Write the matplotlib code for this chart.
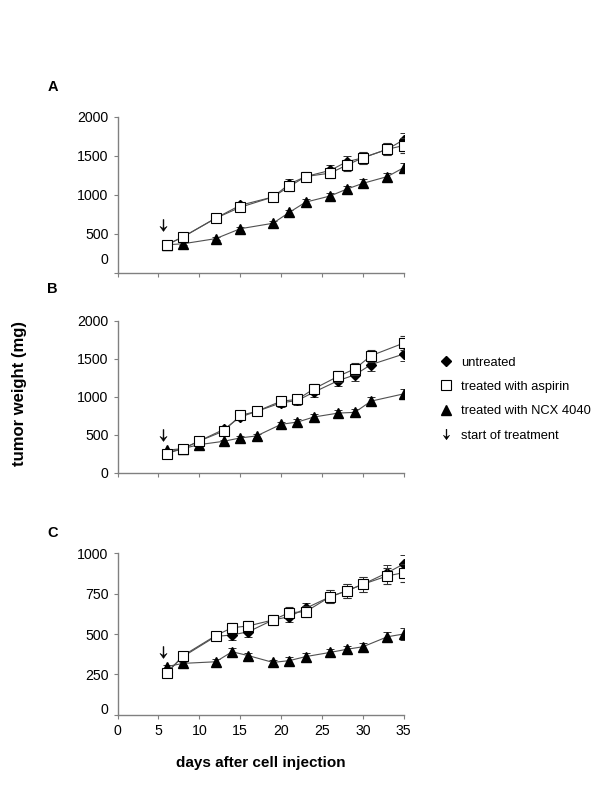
import matplotlib
matplotlib.use('Agg')
import matplotlib.pyplot as plt
from matplotlib.path import Path
from matplotlib.lines import Line2D
from matplotlib.transforms import ScaledTranslation

plt.rcParams['font.family'] = ['Liberation Sans', 'DejaVu Sans']

# ---- data (tumor weight, mg) ----
days_a = [6, 8, 12, 15, 19, 21, 23, 26, 28, 30, 33, 35]
a_untreated = [359, 460, 700, 866, 972, 1138, 1234, 1313, 1422, 1475, 1584, 1707]
a_untreated_err = [20, 25, 30, 40, 45, 60, 55, 65, 70, 75, 80, 90]
a_aspirin = [359, 460, 700, 840, 972, 1107, 1234, 1278, 1379, 1475, 1584, 1632]
a_aspirin_err = [20, 25, 30, 40, 45, 60, 55, 65, 70, 75, 80, 90]
a_ncx = [359, 372, 438, 565, 635, 775, 906, 985, 1072, 1147, 1234, 1348]
a_ncx_err = [15, 20, 20, 25, 30, 35, 40, 40, 45, 50, 50, 55]

days_b = [6, 8, 10, 13, 15, 17, 20, 22, 24, 27, 29, 31, 35]
b_untreated = [265, 319, 419, 572, 734, 808, 921, 952, 1061, 1214, 1288, 1424, 1563]
b_untreated_err = [15, 20, 25, 35, 40, 40, 50, 55, 60, 70, 75, 80, 90]
b_aspirin = [253, 319, 419, 550, 755, 808, 943, 965, 1105, 1271, 1367, 1541, 1707]
b_aspirin_err = [15, 20, 25, 35, 40, 40, 50, 55, 60, 70, 75, 80, 90]
b_ncx = [297, 319, 371, 415, 459, 485, 638, 668, 734, 786, 795, 943, 1039]
b_ncx_err = [15, 15, 20, 20, 25, 25, 35, 35, 40, 45, 45, 55, 60]

days_c = [6, 8, 12, 14, 16, 19, 21, 23, 26, 28, 30, 33, 35]
c_untreated = [262, 360, 485, 494, 514, 587, 607, 659, 731, 767, 808, 880, 934]
c_untreated_err = [10, 15, 25, 30, 30, 30, 35, 35, 40, 45, 45, 50, 55]
c_aspirin = [256, 366, 490, 539, 550, 587, 632, 638, 731, 767, 808, 860, 880]
c_aspirin_err = [10, 15, 25, 30, 30, 30, 35, 35, 40, 45, 45, 50, 55]
c_ncx = [298, 318, 328, 390, 366, 324, 335, 360, 386, 405, 421, 483, 500]
c_ncx_err = [10, 10, 15, 25, 15, 15, 20, 20, 20, 20, 25, 30, 35]

treatment_day = 5.5
arrow_y = [610, 500, 390]

panels = [
    ('A', days_a, a_untreated, a_untreated_err, a_aspirin, a_aspirin_err, a_ncx, a_ncx_err,
     [0, 500, 1000, 1500, 2000], 2000, [0.196, 0.659, 0.477, 0.195]),
    ('B', days_b, b_untreated, b_untreated_err, b_aspirin, b_aspirin_err, b_ncx, b_ncx_err,
     [0, 500, 1000, 1500, 2000], 2000, [0.196, 0.409, 0.477, 0.190]),
    ('C', days_c, c_untreated, c_untreated_err, c_aspirin, c_aspirin_err, c_ncx, c_ncx_err,
     [0, 250, 500, 750, 1000], 1000, [0.196, 0.1066, 0.477, 0.2018]),
]
zero_shift = [10.5, 0, 4.3]  # pts the "0" label sits above the axis
letter_y = [86.7, 289, 533]

# down arrow marker (thin shaft, notched head)
arrow_marker = Path([(0, -1), (0.6, -0.15), (0.07, -0.5), (0.07, 1), (-0.07, 1),
                     (-0.07, -0.5), (-0.6, -0.15), (0, -1)],
                    [Path.MOVETO] + [Path.LINETO] * 6 + [Path.CLOSEPOLY])

fig = plt.figure(figsize=(6, 8), dpi=100)
axis_grey = '#808080'
line_col = '#505050'

for i, (lab, d, u, ue, a, ae, n, ne, yt, ymax, pos) in enumerate(panels):
    ax = fig.add_axes(pos)
    eb = dict(ecolor='#303030', elinewidth=0.7, capsize=2.8, capthick=0.7, color=line_col, lw=0.8)
    ax.errorbar(d, n, yerr=ne, marker='^', ms=7.5, mfc='black', mec='black', zorder=3, **eb)
    ax.errorbar(d, u, yerr=ue, marker='D', ms=5, mfc='black', mec='black', zorder=4, **eb)
    ax.errorbar(d, a, yerr=ae, marker='s', ms=7, mfc='white', mec='black', mew=0.8, zorder=5, **eb)
    ax.plot([treatment_day], [arrow_y[i]], marker=arrow_marker, ms=8.5, color='black',
            mew=0.4, ls='none', zorder=6)
    ax.set_xlim(0, 35)
    ax.set_ylim(0, ymax)
    ax.set_xticks(range(0, 36, 5))
    ax.set_yticks(yt)
    for s in ['top', 'right']:
        ax.spines[s].set_visible(False)
    for s in ['left', 'bottom']:
        ax.spines[s].set_color(axis_grey)
        ax.spines[s].set_linewidth(1.0)
    ax.tick_params(colors=axis_grey, labelcolor='black', labelsize=10.2, length=3, width=0.8)
    if lab != 'C':
        ax.tick_params(axis='x', labelbottom=False)
    else:
        ax.set_xlabel('days after cell injection', fontsize=11, fontweight='bold', labelpad=13)
    if zero_shift[i]:
        t0 = ax.get_yticklabels()[0]
        t0.set_transform(t0.get_transform() + ScaledTranslation(0, zero_shift[i] / 72, fig.dpi_scale_trans))
    fig.text(52.7 / 600, 1 - letter_y[i] / 800, lab, fontsize=10.5, fontweight='bold',
             ha='center', va='center')

fig.text(20 / 600, 1 - 393 / 800, 'tumor weight (mg)', rotation=90, fontsize=12,
         fontweight='bold', ha='center', va='center')

handles = [
    Line2D([], [], marker='D', ms=5, color='black', ls='none'),
    Line2D([], [], marker='s', ms=7, mfc='white', mec='black', mew=0.8, ls='none'),
    Line2D([], [], marker='^', ms=7.5, color='black', ls='none'),
    Line2D([], [], marker=arrow_marker, ms=7.5, color='black', mew=0.4, ls='none'),
]
labels = ['untreated', 'treated with aspirin', 'treated with NCX 4040', 'start of treatment']
fig.legend(handles, labels, loc='upper left', bbox_to_anchor=(427 / 600, 1 - 345 / 800),
           frameon=False, fontsize=9.3, handlelength=1.2, handletextpad=0.55, labelspacing=0.95)

fig.savefig('out.png', dpi=100)
